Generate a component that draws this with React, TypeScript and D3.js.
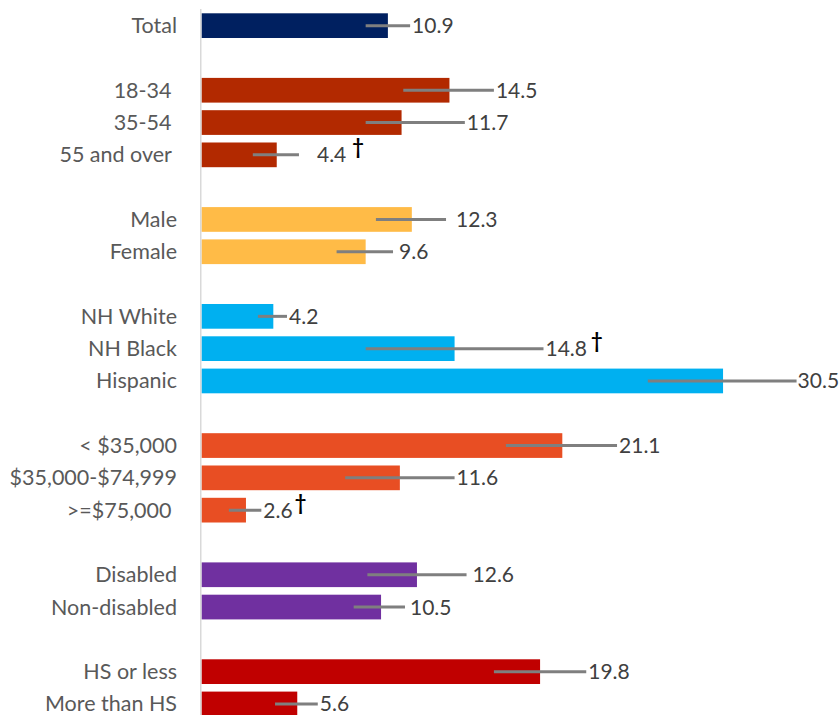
import React from "react";
import * as d3 from "d3";

const categories = [
  "Total", "18-34 ", "35-54 ", "55 and over ", "Male", "Female",
  "NH White", "NH Black", "Hispanic", "< $35,000", "$35,000-$74,999", ">=$75,000 ",
  "Disabled", "Non-disabled", "HS or less", "More than HS",
];
const groups = [0, 1, 1, 1, 2, 2, 3, 3, 3, 4, 4, 4, 5, 5, 6, 6];
const values = [10.9, 14.5, 11.7, 4.4, 12.3, 9.6, 4.2, 14.8, 30.5, 21.1, 11.6, 2.6, 12.6, 10.5, 19.8, 5.6];
const lowerCI = [9.6, 11.8, 9.6, 3.0, 10.2, 7.9, 3.3, 9.6, 26.1, 17.8, 8.4, 1.6, 9.7, 8.9, 17.1, 4.3];
const upperCI = [12.2, 17.1, 15.4, 5.7, 14.3, 11.2, 5.0, 20.0, 34.8, 24.3, 14.8, 3.5, 15.5, 11.9, 22.5, 6.8];
const flagged = [false, false, false, true, false, false, false, true, false, false, false, true, false, false, false, false];
const groupColors = ["#002060", "#B22900", "#FFBB47", "#00B0F0", "#E84E23", "#7030A0", "#C00000"];

// layout-only tweaks (label gaps after the error bar, dagger gaps)
const labelGap: Record<number, number> = { 3: 16, 4: 8, 5: 4, 12: 4, 13: 3, 8: -1 };
const daggerGap: Record<number, number> = { 3: 6, 7: 4, 11: 2 };

const W = 840;
const H = 715;
const FONT = "Lato, 'Open Sans', sans-serif";

export default function App() {
  const nRows = categories.length + groups[groups.length - 1];
  const y = d3
    .scaleBand<number>()
    .domain(d3.range(nRows))
    .range([9.5, 9.5 + nRows * 32.3])
    .paddingInner(0.235)
    .paddingOuter(0.1175);
  const x = d3.scaleLinear().domain([0, 35]).range([201.5, 201.5 + 35 * 17.1]);

  const rows = categories.map((c, i) => {
    const r = i + groups[i];
    const top = y(r)!;
    const cy = top + y.bandwidth() / 2;
    return { c, i, top, cy };
  });

  return (
    <svg
      width={W}
      height={H}
      style={{ position: "absolute", left: 0, top: 0, display: "block", background: "#fff" }}
      fontFamily={FONT}
    >
      {rows.map(({ i, top }) => (
        <rect
          key={"b" + i}
          x={x(0)}
          y={top}
          width={x(values[i]) - x(0)}
          height={y.bandwidth()}
          fill={groupColors[groups[i]]}
        />
      ))}
      <line x1={200.75} x2={200.75} y1={9} y2={H} stroke="#D9D9D9" strokeWidth={1.5} />
      {rows.map(({ i, cy }) => (
        <line
          key={"e" + i}
          x1={x(lowerCI[i])}
          x2={x(upperCI[i])}
          y1={cy}
          y2={cy}
          stroke="#7F7F7F"
          strokeWidth={3}
        />
      ))}
      {rows.map(({ c, i, cy }) => (
        <text
          key={"c" + i}
          x={177}
          y={cy + 7.5}
          textAnchor="end"
          fontSize={21.5}
          fill="#595959"
          style={{ whiteSpace: "pre" }}
        >
          {c}
        </text>
      ))}
      {rows.map(({ i, cy }) => (
        <text
          key={"v" + i}
          x={x(upperCI[i]) + 2 + (labelGap[i] ?? 0)}
          y={cy + 7.5}
          fontSize={21}
          fill="#404040"
        >
          <tspan>{values[i].toFixed(1)}</tspan>
          {flagged[i] ? (
            <tspan dx={daggerGap[i] ?? 4} dy={-8} fontWeight="bold" fill="#000" fontSize={20}>
              †
            </tspan>
          ) : null}
        </text>
      ))}
    </svg>
  );
}
